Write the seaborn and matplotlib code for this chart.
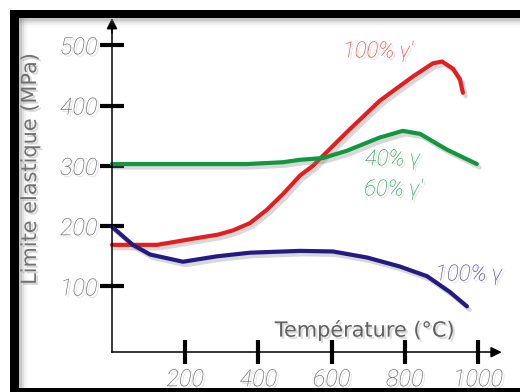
import pandas as pd
import matplotlib
matplotlib.use("Agg")
import matplotlib.pyplot as plt
import matplotlib.patheffects as pe
from matplotlib.patches import Rectangle
import seaborn as sns

# Values
temp_red = [0, 123, 240, 290, 331, 377, 423, 467, 514, 549, 642, 732, 822, 877, 902, 932, 951, 959]
yield_red = [169, 169, 181, 186, 193, 205, 227, 253, 284, 300, 356, 408, 448, 470, 473, 461, 443, 421]

temp_green = [0, 369, 467, 514, 577, 642, 732, 795, 842, 915, 997]
yield_green = [303, 303, 306, 310, 313, 325, 347, 358, 353, 327, 303]

temp_blue = [0, 57, 104, 194, 287, 377, 514, 604, 697, 787, 861, 923, 970]
yield_blue = [199, 169, 153, 141, 150, 156, 159, 158, 148, 133, 117, 91, 67]

x_ticks = [200, 400, 600, 800, 1000]
y_ticks = [100, 200, 300, 400, 500]

series_names = ["100% γ'", "40% γ + 60% γ'", "100% γ"]
colors = {"100% γ'": "#e41e1e", "40% γ + 60% γ'": "#12963f", "100% γ": "#231a82"}

df = pd.concat([
    pd.DataFrame({"T": temp_red, "v": yield_red, "serie": series_names[0]}),
    pd.DataFrame({"T": temp_green, "v": yield_green, "serie": series_names[1]}),
    pd.DataFrame({"T": temp_blue, "v": yield_blue, "serie": series_names[2]}),
])

sns.set_style("white")
plt.rcParams['font.family'] = ['DejaVu Sans']
thin = ['Roboto', 'DejaVu Sans']

fig = plt.figure(figsize=(5.2, 3.92), dpi=100)
ax = fig.add_axes([0, 0, 1, 1])
ax.set_facecolor("white")

sns.lineplot(data=df, x="T", y="v", hue="serie", palette=colors, hue_order=series_names,
             linewidth=3, legend=False, errorbar=None, ax=ax)
shadow = [pe.SimpleLineShadow(offset=(2, -2.5), shadow_color="gray", alpha=0.3), pe.Normal()]
for ln in ax.lines:
    ln.set_path_effects(shadow)
    ln.set_solid_joinstyle("round")

ax.set_xlim(-306, 1115)
ax.set_ylim(-75, 575)

# axes drawn as arrows through the origin
for s in ["top", "right"]:
    ax.spines[s].set_visible(False)
ax.spines["left"].set_position(("data", 0))
ax.spines["bottom"].set_position(("data", -9))
ax.spines["left"].set_bounds(-9, 530)
ax.spines["bottom"].set_bounds(0, 1045)
for s in ["left", "bottom"]:
    ax.spines[s].set_color("black")
    ax.spines[s].set_linewidth(1.1)
arrow = dict(arrowstyle="-|>", color="black", lw=1.1, mutation_scale=16, shrinkA=0, shrinkB=0)
ax.annotate("", xy=(0, 545), xytext=(0, 520), arrowprops=arrow)
ax.annotate("", xy=(1065, -9), xytext=(1035, -9), arrowprops=arrow)

ax.set_xticks(x_ticks)
ax.set_yticks(y_ticks)
ax.set_xticklabels([str(t) for t in x_ticks])
ax.set_yticklabels([str(t) for t in y_ticks])
ax.tick_params(axis="both", direction="inout", length=17, width=3, color="black",
               bottom=True, left=True)
ax.tick_params(axis="y", pad=2)
ax.tick_params(axis="x", pad=3)
txt_shadow = [pe.withSimplePatchShadow(offset=(1.5, -1.5), shadow_rgbFace="gray", alpha=0.3)]
for lab in ax.get_xticklabels() + ax.get_yticklabels():
    lab.set_family(thin)
    lab.set_fontsize(17)
    lab.set_fontstyle("italic")
    lab.set_fontweight("light")
    lab.set_color("#606060")
    lab.set_path_effects(txt_shadow)
ax.set_xlabel("")
ax.set_ylabel("")

ax.text(691, 28, "Température (°C)", fontsize=15, color="#606060", ha="center",
        va="center", path_effects=txt_shadow)
ax.text(-224, 295, "Limite elastique (MPa)", fontsize=15, color="#707070", ha="center",
        va="center", rotation=90, path_effects=txt_shadow)

note = dict(fontsize=16, style="italic", fontweight="light", family=thin, ha="left", va="center",
            path_effects=txt_shadow)
ax.text(631, 489, "100% γ'", color="#e83030", **note)
ax.text(691, 310, "40% γ", color="#1a9a48", **note)
ax.text(689, 260, "60% γ'", color="#1a9a48", **note)
ax.text(883, 119, "100% γ", color="#3a3290", clip_on=False, **note)

# black frame with soft inner shadow
W, H = 520.0, 392.0
for i, a in enumerate([0.25, 0.15, 0.08, 0.04]):
    fig.add_artist(Rectangle((19 / W, 0), (3 + i * 2) / W, (392 - 18) / H, transform=fig.transFigure,
                             color="gray", alpha=a, lw=0))
    fig.add_artist(Rectangle((19 / W, (392 - 21 - i * 2) / H), 1, (3 + i * 2) / H, transform=fig.transFigure,
                             color="gray", alpha=a, lw=0))
fig.add_artist(Rectangle((10 / W, (392 - 18) / H), 1, 8 / H, transform=fig.transFigure, color="black", lw=0))
fig.add_artist(Rectangle((10 / W, 0), 9 / W, 382 / H, transform=fig.transFigure, color="black", lw=0))
fig.add_artist(Rectangle((10 / W, 0), 1, 4 / H, transform=fig.transFigure, color="black", lw=0))

fig.savefig("out.png", dpi=100)
